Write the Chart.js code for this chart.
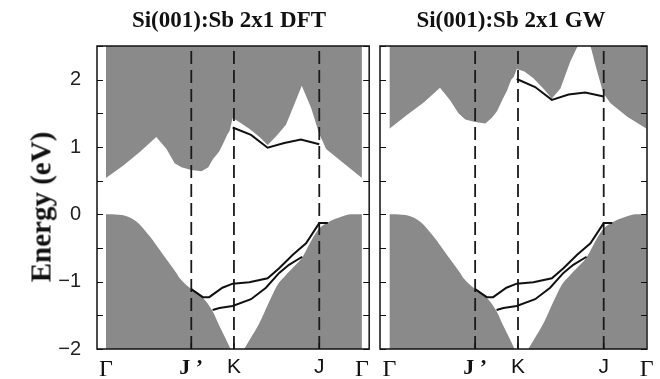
<!DOCTYPE html>
<html>
<head>
<meta charset="utf-8">
<script src="https://cdn.jsdelivr.net/npm/chart.js@4.4.1/dist/chart.umd.min.js"></script>
<style>
  body { margin: 0; background: #fff; }
  #wrap { position: relative; width: 660px; height: 379px; overflow: hidden; }
  #dftChart { position: absolute; left: 0; top: 0; }
  #gwChart { position: absolute; left: 375px; top: 0; }
  .title { position: absolute; top: 20px; transform: translate(-50%, -50%); font: bold 23px "Liberation Serif", serif; color: #111; white-space: nowrap; }
  #ylab { position: absolute; left: 41px; top: 207px; transform: translate(-50%, -50%) rotate(-90deg); font: bold 29px "Liberation Serif", serif; color: #111; white-space: nowrap; }
</style>
</head>
<body>
<div id="wrap">
  <canvas id="dftChart" width="375" height="379"></canvas>
  <canvas id="gwChart" width="285" height="379"></canvas>
  <div class="title" style="left:229px">Si(001):Sb 2x1 DFT</div>
  <div class="title" style="left:511px">Si(001):Sb 2x1 GW</div>
  <div id="ylab">Energy (eV)</div>
</div>
<script>
// high symmetry points along the path (Γ-J' = 2, J'-K = 1, K-J = 2, J-Γ = 1)
const kLabels = ['Γ', 'J ’', 'K', 'J', 'Γ'];
const kPoints = [0, 2, 3, 5, 6];
const energyTicks = [-2, -1, 0, 1, 2];
const energyRange = [-2, 2.5];

// projected bulk conduction band, lower edge
const condK   = [0, 0.4, 0.8, 1.18, 1.42, 1.61, 1.77, 2.0, 2.24, 2.4, 2.51, 2.65, 2.74, 2.84, 2.9, 2.97, 3.15, 3.36, 3.6, 3.79, 3.99, 4.22, 4.38, 4.59, 4.81, 4.99, 5.16, 5.55, 6.0];
const condDFT = [0.54, 0.72, 0.93, 1.15, 0.97, 0.76, 0.70, 0.66, 0.64, 0.70, 0.82, 0.93, 1.04, 1.18, 1.24, 1.43, 1.36, 1.27, 1.15, 1.03, 1.16, 1.33, 1.58, 1.91, 1.58, 1.21, 0.97, 0.77, 0.54];
const condGW  = [1.27, 1.47, 1.66, 1.88, 1.69, 1.50, 1.41, 1.37, 1.35, 1.44, 1.53, 1.72, 1.83, 2.00, 2.04, 2.16, 2.12, 2.02, 1.86, 1.72, 1.87, 2.27, 2.48, 2.75, 2.21, 1.80, 1.65, 1.45, 1.27];

// projected bulk valence band, upper edge (same in both panels)
const valK = [0, 0.3, 0.45, 0.72, 1.03, 1.34, 1.65, 1.73, 2.0, 2.27, 2.5, 2.66, 2.81, 2.92, 3.0, 3.15, 3.24, 3.40, 3.56, 3.71, 3.87, 4.03, 4.22, 4.45, 4.61, 4.84, 5.0, 5.23, 5.5, 5.75, 6.0];
const valE = [0, -0.005, -0.02, -0.11, -0.33, -0.60, -0.87, -0.95, -1.11, -1.24, -1.44, -1.66, -1.85, -2.0, -2.1, -2.1, -2.0, -1.83, -1.66, -1.46, -1.24, -1.04, -0.90, -0.75, -0.63, -0.36, -0.21, -0.11, -0.04, 0, 0];

// surface states
const upperK   = [2.97, 3.40, 3.79, 4.18, 4.57, 5.0];
const upperDFT = [1.29, 1.18, 0.99, 1.06, 1.11, 1.04];
const upperGW  = [2.01, 1.89, 1.70, 1.78, 1.81, 1.75];
const stateAK = [2.0, 2.27, 2.42, 2.73, 2.97, 3.36, 3.79, 4.06, 4.38, 4.69, 5.0, 5.2];
const stateAE = [-1.11, -1.23, -1.23, -1.09, -1.03, -1.01, -0.95, -0.80, -0.60, -0.43, -0.13, -0.13];
const stateBK = [2.5, 2.66, 2.97, 3.40, 3.75, 4.06, 4.29, 4.6];
const stateBE = [-1.42, -1.39, -1.36, -1.26, -1.09, -0.87, -0.75, -0.63];

const grey = '#8a8a8a';

function pts(ks, es) {
    return ks.map((k, i) => ({ x: k, y: es[i] }));
}

function tickFont(label) {
    if (label === 'K' || label === 'J') return { family: 'Liberation Sans', size: 21 };
    if (label === 'Γ') return { family: 'Liberation Serif', size: 24 };
    return { family: 'Liberation Serif', size: 22, weight: 'bold' };
}

function fmtEnergy(v) {
    return v < 0 ? '\u2212' + Math.abs(v) : String(v);
}

// frame with inward tick marks
const framePlugin = {
    id: 'frame',
    afterDraw(chart) {
        const { ctx, chartArea: a, scales: { x, y } } = chart;
        ctx.save();
        ctx.strokeStyle = '#111';
        ctx.lineWidth = 1.5;
        ctx.strokeRect(a.left, a.top, a.right - a.left, a.bottom - a.top);
        ctx.lineWidth = 1.2;
        ctx.beginPath();
        y.ticks.forEach(t => {
            const py = Math.round(y.getPixelForValue(t.value)) + 0.5;
            ctx.moveTo(a.left, py); ctx.lineTo(a.left + 6, py);
            ctx.moveTo(a.right, py); ctx.lineTo(a.right - 6, py);
        });
        kPoints.slice(1, -1).forEach(k => {
            const px = x.getPixelForValue(k);
            ctx.moveTo(px, a.bottom); ctx.lineTo(px, a.bottom - 6);
        });
        ctx.stroke();
        ctx.restore();
    }
};

function makeChart(id, cond, upper, xMin, xMax, showY, pad) {
    const datasets = [];
    datasets.push({ data: pts(stateAK, stateAE), borderColor: '#111', borderWidth: 2, order: 1 });
    datasets.push({ data: pts(stateBK, stateBE), borderColor: '#111', borderWidth: 2, order: 1 });
    datasets.push({ data: pts(upperK, upper), borderColor: '#111', borderWidth: 2, order: 1 });
    kPoints.slice(1, -1).forEach(k => {
        datasets.push({
            data: [{ x: k, y: energyRange[0] }, { x: k, y: energyRange[1] }],
            borderColor: '#1a1a1a', borderWidth: 1.8, borderDash: [13, 6], order: 2
        });
    });
    datasets.push({ data: pts(condK, cond), borderWidth: 0, borderColor: grey, backgroundColor: grey, fill: 'end', order: 3 });
    datasets.push({ data: pts(valK, valE), borderWidth: 0, borderColor: grey, backgroundColor: grey, fill: 'start', cubicInterpolationMode: 'monotone', order: 3 });

    return new Chart(document.getElementById(id), {
        type: 'line',
        data: { datasets: datasets },
        options: {
            responsive: false,
            animation: false,
            events: [],
            layout: { padding: pad },
            elements: { point: { radius: 0 }, line: { tension: 0 } },
            plugins: { legend: { display: false }, tooltip: { enabled: false } },
            scales: {
                x: {
                    type: 'linear',
                    min: xMin,
                    max: xMax,
                    afterBuildTicks: s => { s.ticks = kPoints.map(v => ({ value: v })); },
                    afterFit: s => { s.height = 30; },
                    ticks: {
                        autoSkip: false,
                        maxRotation: 0,
                        padding: 6,
                        color: '#111',
                        callback: (v, i) => kLabels[i],
                        font: c => tickFont(kLabels[c.index])
                    },
                    grid: { display: false, drawTicks: false },
                    border: { display: false }
                },
                y: {
                    display: showY,
                    min: energyRange[0],
                    max: energyRange[1],
                    afterFit: s => { if (showY) s.width = 97; },
                    ticks: {
                        stepSize: 0.5,
                        autoSkip: false,
                        padding: 16,
                        color: '#222',
                        font: { family: 'Liberation Sans', size: 20 },
                        callback: v => energyTicks.includes(v) ? fmtEnergy(v) : ''
                    },
                    grid: { display: false, drawTicks: false },
                    border: { display: false }
                }
            }
        },
        plugins: [framePlugin]
    });
}

makeChart('dftChart', condDFT, upperDFT, -0.21, 6.17, true, { top: 46, right: 5, left: 0, bottom: 0 });
makeChart('gwChart', condGW, upperGW, -0.22, 6.01, false, { top: 46, right: 13, left: 5, bottom: 0 });
</script>
</body>
</html>
